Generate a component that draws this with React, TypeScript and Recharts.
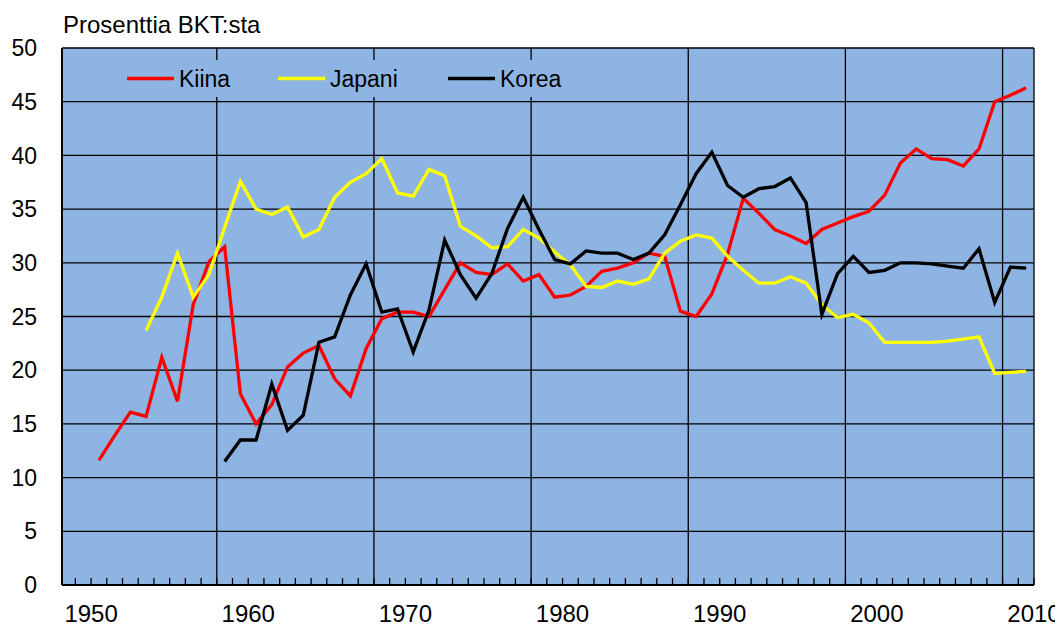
import React from 'react';
import { LineChart, Line, XAxis, YAxis, CartesianGrid, Legend } from 'recharts';

// Label-years of the data points (the chart's axis labels sit half a year before each point)
const years = [
  1950, 1951, 1952, 1953, 1954, 1955, 1956, 1957, 1958, 1959,
  1960, 1961, 1962, 1963, 1964, 1965, 1966, 1967, 1968, 1969,
  1970, 1971, 1972, 1973, 1974, 1975, 1976, 1977, 1978, 1979,
  1980, 1981, 1982, 1983, 1984, 1985, 1986, 1987, 1988, 1989,
  1990, 1991, 1992, 1993, 1994, 1995, 1996, 1997, 1998, 1999,
  2000, 2001, 2002, 2003, 2004, 2005, 2006, 2007, 2008, 2009,
];

const kiina = [
  11.6, 13.9, 16.1, 15.7, 21.2, 17.1, 26.1, 30.1, 31.5, 17.8,
  15.0, 16.8, 20.3, 21.6, 22.3, 19.2, 17.6, 22.0, 24.8, 25.4,
  25.4, 25.0, 27.5, 30.0, 29.1, 28.9, 29.9, 28.3, 28.9, 26.8,
  27.0, 27.8, 29.2, 29.5, 30.0, 30.9, 30.6, 25.5, 25.0, 27.1,
  30.8, 36.0, 34.6, 33.1, 32.5, 31.8, 33.1, 33.7, 34.3, 34.8,
  36.3, 39.3, 40.6, 39.7, 39.6, 39.0, 40.6, 45.0, 45.6, 46.3,
];

const japani = [
  null, null, null, 23.7, 26.8, 30.9, 26.8, 28.9, 33.3, 37.6,
  35.0, 34.5, 35.2, 32.4, 33.1, 36.1, 37.5, 38.3, 39.7, 36.5,
  36.2, 38.7, 38.1, 33.4, 32.5, 31.4, 31.5, 33.1, 32.3, 31.0,
  29.8, 27.8, 27.7, 28.3, 28.0, 28.5, 30.9, 32.0, 32.6, 32.3,
  30.6, 29.3, 28.1, 28.1, 28.7, 28.1, 26.1, 24.9, 25.2, 24.4,
  22.6, 22.6, 22.6, 22.6, 22.7, 22.9, 23.1, 19.7, 19.8, 19.9,
];

const korea = [
  null, null, null, null, null, null, null, null, 11.5, 13.5,
  13.5, 18.7, 14.4, 15.8, 22.6, 23.1, 27.0, 29.9, 25.4, 25.7,
  21.7, 25.6, 32.1, 28.9, 26.7, 29.0, 33.2, 36.1, 33.1, 30.3,
  29.9, 31.1, 30.9, 30.9, 30.3, 30.9, 32.6, 35.4, 38.3, 40.3,
  37.2, 36.1, 36.9, 37.1, 37.9, 35.6, 25.2, 29.0, 30.6, 29.1,
  29.3, 30.0, 30.0, 29.9, 29.7, 29.5, 31.3, 26.3, 29.6, 29.5,
];

const seriesNames = ['Kiina', 'Japani', 'Korea'];
const seriesColors = ['#FF0000', '#FFFF00', '#000000'];
const xLabels = [1950, 1960, 1970, 1980, 1990, 2000, 2010];
const yTicks = [0, 5, 10, 15, 20, 25, 30, 35, 40, 45, 50];
const gridYears = [1958, 1968, 1978, 1988, 1998, 2008];

const data = years.map((y, i) => ({ year: y, Kiina: kiina[i], Japani: japani[i], Korea: korea[i] }));

// axis positions: a label year L sits at L - 0.5 on the data scale; gridlines likewise
const X_MIN = 1947.65;
const X_MAX = 2009.5;
const minorTicks: number[] = [];
for (let v = 1948.5; v <= 2009.5; v += 1) minorTicks.push(v);
const verticalValues = [...gridYears.map((g) => g - 0.5), X_MAX];

const FONT = '"Liberation Sans", Arial, sans-serif';
const PLOT_BG = '#8EB4E3';
const LINE_W = 3.3;

const XTick = (props: any) => {
  const { x, y, payload } = props;
  const lbl = payload.value + 0.5;
  const show = xLabels.includes(lbl);
  return (
    <g>
      <line x1={x} x2={x} y1={y} y2={y - 7} stroke="#000" strokeWidth={1.3} />
      {show && (
        <text x={x} y={y + 37} textAnchor="middle" fontSize={24} fontFamily={FONT} fill="#000">
          {String(lbl)}
        </text>
      )}
    </g>
  );
};

const renderLegend = (props: any) => {
  const payload = props.payload || [];
  const itemX = [17, 168, 338];
  return (
    <svg width={470} height={37} style={{ display: 'block' }}>
      <rect x={0} y={0} width={470} height={37} fill={PLOT_BG} />
      {seriesNames.map((name, i) => {
        const entry = payload.find((p: any) => p.value === name || p.dataKey === name);
        const color = entry ? entry.color : seriesColors[i];
        return (
          <g key={name}>
            <line x1={itemX[i]} x2={itemX[i] + 47} y1={18.5} y2={18.5} stroke={color} strokeWidth={LINE_W} />
            <text x={itemX[i] + 52} y={26.7} fontSize={23} fontFamily={FONT} fill="#000">
              {name}
            </text>
          </g>
        );
      })}
    </svg>
  );
};

export default function App() {
  return (
    <div style={{ position: 'relative', width: 1055, height: 618 }}>
      <LineChart
        width={1055}
        height={618}
        data={data}
        margin={{ top: 40, right: 29, bottom: 0, left: 0 }}
      >
        <CartesianGrid
          fill={PLOT_BG}
          fillOpacity={1}
          stroke="#000"
          strokeWidth={1.3}
          verticalValues={verticalValues}
        />
        <XAxis
          dataKey="year"
          type="number"
          domain={[X_MIN, X_MAX]}
          ticks={minorTicks}
          interval={0}
          tick={<XTick />}
          tickLine={false}
          tickSize={0}
          tickMargin={0}
          height={41}
          axisLine={{ stroke: '#000', strokeWidth: 2 }}
          allowDataOverflow
        />
        <YAxis
          type="number"
          domain={[0, 50]}
          ticks={yTicks}
          interval={0}
          width={54}
          tickLine={false}
          tickSize={6}
          tickMargin={19}
          axisLine={{ stroke: '#000', strokeWidth: 2 }}
          tick={{ fill: '#000', fontSize: 23, fontFamily: FONT }}
        />
        <Legend
          layout="horizontal"
          verticalAlign="middle"
          align="center"
          content={renderLegend}
          wrapperStyle={{ position: 'absolute', left: 102, top: 52, width: 470, height: 37 }}
        />
        {seriesNames.map((name, i) => (
          <Line
            key={name}
            type="linear"
            dataKey={name}
            stroke={seriesColors[i]}
            strokeWidth={LINE_W}
            dot={false}
            isAnimationActive={false}
          />
        ))}
      </LineChart>
      <svg
        width={400}
        height={40}
        style={{ position: 'absolute', left: 0, top: 0, pointerEvents: 'none' }}
      >
        <text x={55} y={25.3} fontSize={24} fontFamily={FONT} fill="#000">
          Prosenttia BKT:sta
        </text>
      </svg>
    </div>
  );
}
